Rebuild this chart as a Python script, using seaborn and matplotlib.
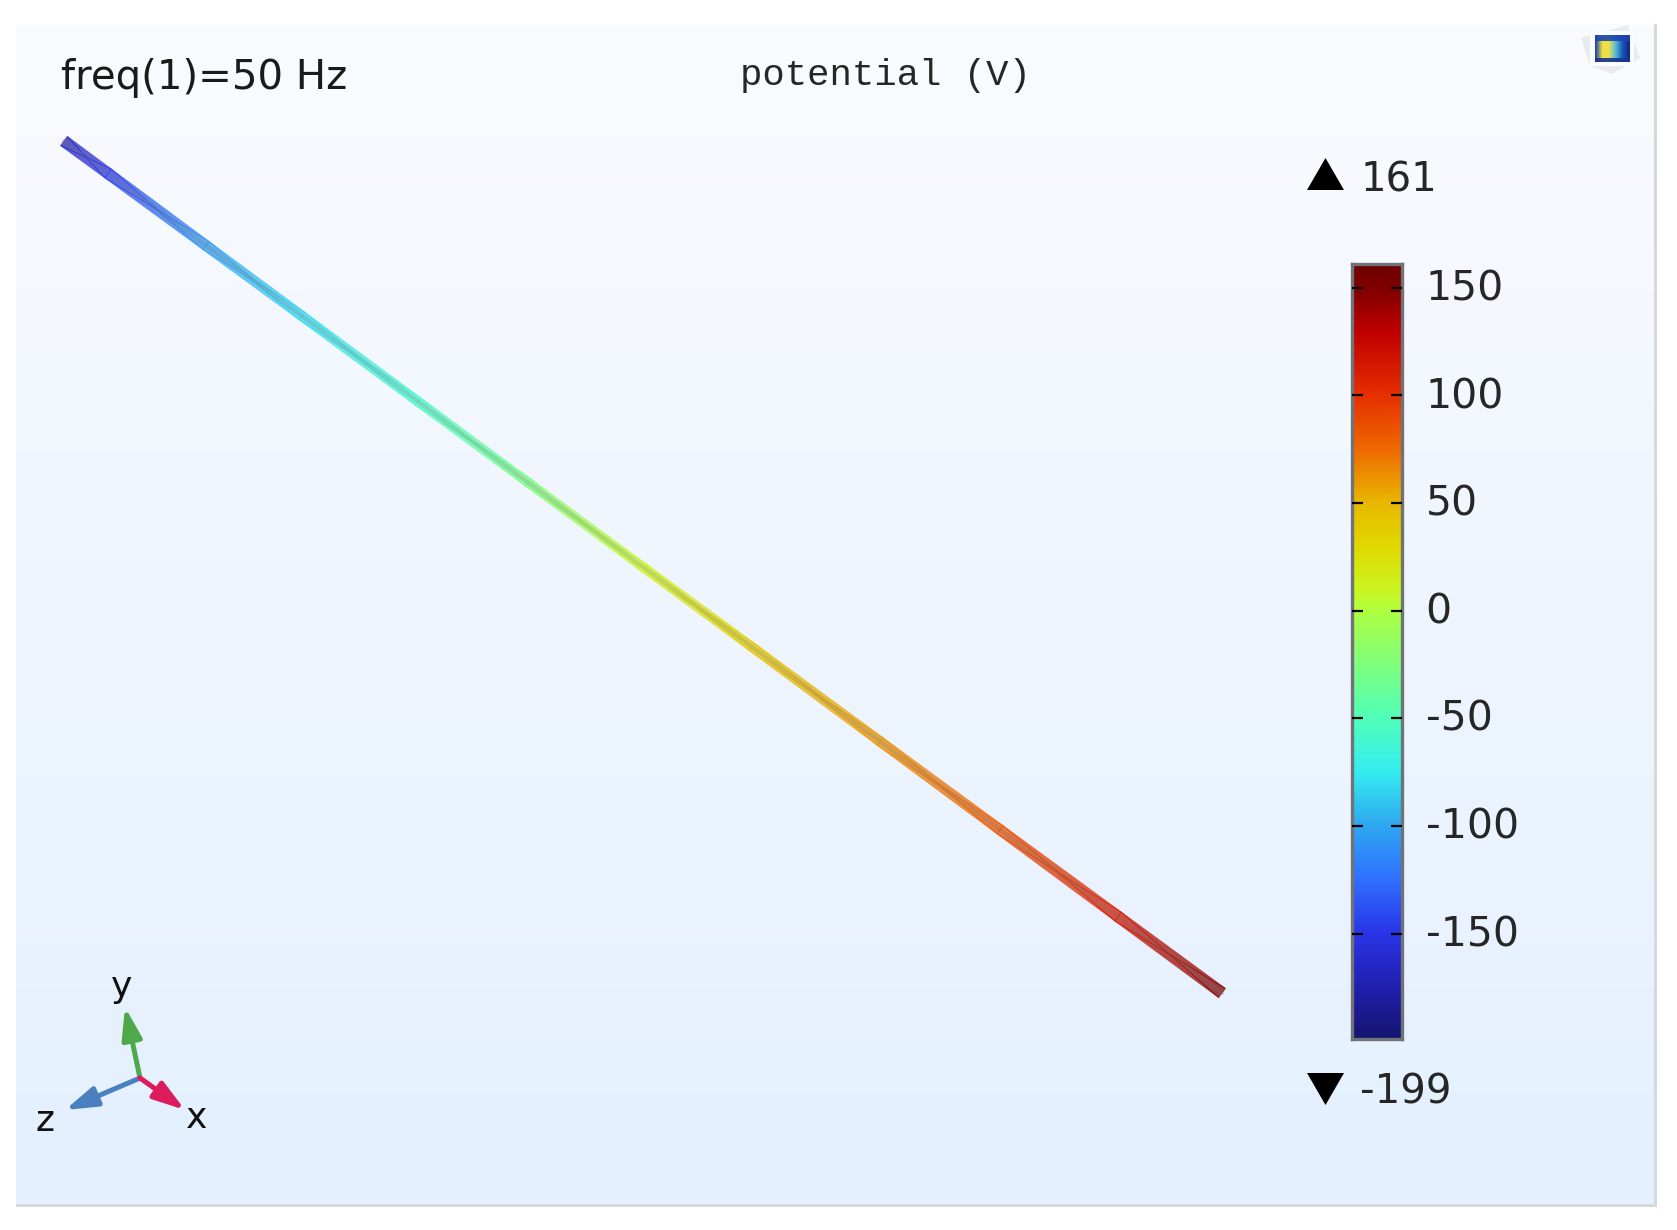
"""Potential along a wire at 50 Hz, drawn in the style of a COMSOL result window."""

import numpy as np
import pandas as pd
import seaborn as sns
import matplotlib
matplotlib.use("Agg")
import matplotlib.pyplot as plt
from matplotlib.colors import LinearSegmentedColormap, Normalize, to_rgb
from matplotlib.patches import Polygon, Rectangle
from matplotlib.transforms import ScaledTranslation

# Data
wire_x = [64, 108, 206, 302, 418, 528, 645, 752, 880, 1000, 1118, 1222]
wire_y = [141, 173.4, 245.5, 316, 401.5, 482.4, 568.5, 647, 741.4, 829.7, 916.5, 993]
wire_potential = [-172, -150, -105, -82, -58, -28, 10, 38, 62, 85, 115, 150]

scale_ticks = [150, 100, 50, 0, -50, -100, -150]
scale_max = 161
scale_min = -199
scale_stops = [-199, -175, -150, -125, -100, -75, -50, -20, 0, 10, 30, 50, 75, 100, 130, 150, 161]
scale_colors = ["#141470", "#2020b0", "#2a35e8", "#3070ff", "#2ea8f0", "#35ecf0", "#50ffb8", "#88ff70",
                "#adff40", "#ccf520", "#e0d800", "#e8b800", "#ee6a00", "#e63000", "#c00000", "#800000", "#6e0000"]

freq_label = "freq(1)=50 Hz"
title_label = "potential (V)"

W, H = 1677, 1230
sns.set_theme(style="white")
plt.rcParams["font.family"] = ["DejaVu Sans"]

fig = plt.figure(figsize=(W / 100, H / 100), dpi=100, facecolor="white")
ax = fig.add_axes([0, 0, 1, 1])
ax.axis("off")

# Window background, a soft vertical gradient
top, bottom = np.array(to_rgb("#fafbff")), np.array(to_rgb("#e4f0fe"))
grad = np.linspace(0, 1, 256)[:, None, None]
ax.imshow(top + (bottom - top) * grad, extent=(16, 1654, 1204, 24), aspect="auto", zorder=0)
ax.add_patch(Rectangle((1654, 24), 3, 1183, color="#d6d8da", lw=0, zorder=1))
ax.add_patch(Rectangle((16, 1204), 1641, 3, color="#d6d8da", lw=0, zorder=1))

cmap = LinearSegmentedColormap.from_list(
    "potential",
    [((s - scale_min) / (scale_max - scale_min), c) for s, c in zip(scale_stops, scale_colors)],
)
norm = Normalize(scale_min, scale_max)

# Wire as a gouraud shaded strip, so the colour runs smoothly between stations
px, py, pot = np.array(wire_x, float), np.array(wire_y, float), np.array(wire_potential, float)
dx, dy = px[-1] - px[0], py[-1] - py[0]
length = np.hypot(dx, dy)
nx, ny = -dy / length, dx / length
half_width = np.array([5.6, 5.4, 5.0, 4.7, 4.5, 4.4, 4.4, 4.5, 4.7, 5.0, 5.4, 5.6])
strip_x = np.vstack([px + nx * half_width, px - nx * half_width])
strip_y = np.vstack([py + ny * half_width, py - ny * half_width])
ax.pcolormesh(strip_x, strip_y, np.vstack([pot, pot]), shading="gouraud", cmap=cmap, norm=norm,
              alpha=0.75, zorder=3)
sns.lineplot(x=wire_x, y=wire_y, ax=ax, sort=False, estimator=None, color="#707070", alpha=0.22,
             linewidth=3.2, zorder=4, legend=False)

# Colour scale
cax = fig.add_axes([1352 / W, 1 - 1039 / H, 50 / W, 775 / H])
levels = pd.DataFrame(np.linspace(scale_max, scale_min, 720)[:, None])
sns.heatmap(levels, ax=cax, cmap=cmap, vmin=scale_min, vmax=scale_max, cbar=False,
            xticklabels=False, yticklabels=False)
rows = len(levels)
cax.set_axisbelow(False)
cax.set_yticks([(scale_max - t) / (scale_max - scale_min) * rows for t in scale_ticks])
cax.set_yticklabels([str(t) for t in scale_ticks], fontsize=29.5, color="#262626", ha="left")
cax.tick_params(axis="y", direction="in", left=True, right=True, labelleft=False, labelright=True,
                length=8, width=1.6, color="black", pad=17)
# the labels sit a little above their ticks in the original
nudge = ScaledTranslation(0, 2 / 72, fig.dpi_scale_trans)
for tick in cax.get_yticklabels():
    tick.set_transform(tick.get_transform() + nudge)
for spine in cax.spines.values():
    spine.set_visible(True)
    spine.set_color("#6f7378")
    spine.set_linewidth(2.4)

# Max and min markers
ax.add_patch(Polygon([(1307, 190), (1344, 190), (1325.5, 158)], color="black", lw=0, zorder=5))
ax.add_patch(Polygon([(1307, 1073), (1344, 1073), (1325.5, 1105)], color="black", lw=0, zorder=5))
ax.text(1361, 191, str(scale_max), fontsize=29, color="#262626", va="baseline", ha="left")
ax.text(1360, 1103, str(scale_min), fontsize=29, color="#262626", va="baseline", ha="left")

# Headings
ax.text(61, 89, freq_label, fontsize=29, color="#1a1a1a", va="baseline", ha="left")
ax.text(740, 85, title_label, fontsize=26.8, color="#262626", va="baseline", ha="left",
        family="Liberation Mono")

# Axis triad
origin = (140, 1078)
for tip, color in [((125, 1007), "#4fa84a"), ((65, 1110), "#4a80bf"), ((185, 1110), "#dc1c5c")]:
    ax.annotate("", xy=tip, xytext=origin, zorder=5,
                arrowprops=dict(arrowstyle="-|>,head_length=0.95,head_width=0.3", color=color, lw=3.6,
                                shrinkA=0, shrinkB=0, mutation_scale=20))
for label, pos in [("y", (122, 987)), ("z", (45, 1121)), ("x", (197, 1118))]:
    ax.text(*pos, label, fontsize=26, color="#111111", ha="center", va="center")

# Little view icon in the corner
ax.add_patch(Polygon([(1581, 38), (1628, 25), (1640, 58), (1612, 74), (1590, 66)], color="#e9ecef", lw=0, zorder=2))
ax.add_patch(Rectangle((1590, 31), 44, 35, color="#fbfcff", lw=0, zorder=2))
icon_rows = np.linspace(0, 1, 16)
icon_cols = np.linspace(0, 1, 24)
icon = np.array([[float(c) for c in icon_cols] for _ in icon_rows])
icon_cmap = LinearSegmentedColormap.from_list("icon", ["#1c46b8", "#f2e23c", "#e8e050", "#52b8dc", "#1c58b0", "#0d2a8c"])
ax.imshow(icon, extent=(1595, 1630, 62, 35), aspect="auto", cmap=icon_cmap, zorder=3, interpolation="bilinear")
ax.add_patch(Rectangle((1595, 35), 35, 6, color="#1c46b0", lw=0, alpha=0.9, zorder=3))
ax.add_patch(Rectangle((1595, 58), 35, 4, color="#16348f", lw=0, alpha=0.9, zorder=3))

ax.set_xlim(0, W)
ax.set_ylim(H, 0)
ax.axis("off")

fig.savefig("out.png", dpi=100, facecolor="white")
